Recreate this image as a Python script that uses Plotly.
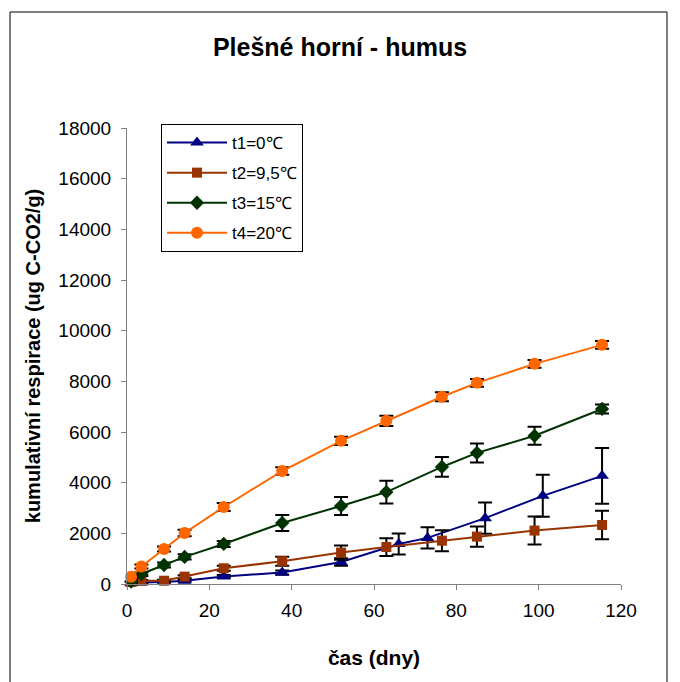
import plotly.graph_objects as go

# ---- data ----
days = [1, 3.5, 9, 14, 23.5, 37.7, 52, 63, 76.5, 85, 99, 115.4]
days_t1 = [1, 3.5, 9, 14, 23.5, 37.7, 52, 66, 73, 87, 101, 115.4]

t1 = [30, 60, 80, 130, 300, 450, 870, 1580, 1820, 2600, 3480, 4270]
t1_err = [20, 20, 30, 40, 60, 80, 150, 415, 420, 620, 830, 1100]

t2 = [80, 130, 130, 290, 620, 900, 1240, 1460, 1710, 1870, 2110, 2330]
t2_err = [30, 30, 40, 60, 100, 180, 280, 350, 415, 395, 550, 560]

t3 = [90, 395, 750, 1070, 1580, 2410, 3080, 3630, 4620, 5175, 5850, 6910]
t3_err = [40, 80, 100, 100, 120, 316, 355, 450, 390, 375, 355, 180]

t4 = [290, 690, 1380, 2015, 3040, 4460, 5650, 6440, 7390, 7940, 8690, 9440]
t4_err = [60, 80, 100, 130, 160, 150, 160, 200, 180, 150, 150, 150]

names = ["t1=0\u2103", "t2=9,5\u2103", "t3=15\u2103", "t4=20\u2103"]
colors = ["#000080", "#993300", "#003300", "#FF6600"]
symbols = ["triangle-up", "square", "diamond", "circle"]
sizes = [12, 10, 11, 12]

x_ticks = [0, 20, 40, 60, 80, 100, 120]
y_ticks = list(range(0, 18001, 2000))

xs = [days_t1, days, days, days]
ys = [t1, t2, t3, t4]
errs = [t1_err, t2_err, t3_err, t4_err]

FONT = "Liberation Sans, Arial, sans-serif"

fig = go.Figure()
for i in range(4):
    fig.add_trace(go.Scatter(
        x=xs[i], y=ys[i], name=names[i], mode="lines+markers",
        legendgroup="g%d" % i,
        line=dict(color=colors[i], width=2),
        marker=dict(symbol=symbols[i], size=sizes[i], color=colors[i],
                    line=dict(width=0)),
        error_y=dict(type="data", array=errs[i], visible=True,
                     color="black", thickness=2, width=7),
        cliponaxis=False,
    ))

fig.update_layout(
    width=680, height=682,
    margin=dict(l=127, r=59, t=128, b=98),
    paper_bgcolor="white", plot_bgcolor="white",
    font=dict(family=FONT, color="black"),
    title=dict(text="<b>Plešné horní - humus</b>", x=0.5, xref="container",
               xanchor="center",
               y=1 - 47 / 682, yref="container", yanchor="middle",
               font=dict(size=25, family=FONT)),
    showlegend=True,
    legend=dict(x=0.0688, y=1.0088, xanchor="left", yanchor="top",
                bordercolor="black", borderwidth=1, bgcolor="white",
                font=dict(size=17, family=FONT),
                tracegroupgap=5, traceorder="grouped", itemwidth=60),
    xaxis=dict(range=[0, 120], tickvals=x_ticks,
               ticktext=[str(v) for v in x_ticks],
               showgrid=False, zeroline=False, showline=True,
               linecolor="#808080", linewidth=1, ticks="outside",
               ticklen=5, tickcolor="#808080",
               tickfont=dict(size=19, family=FONT),
               ticklabelstandoff=4,
               title=dict(text="<b>čas (dny)</b>", font=dict(size=21, family=FONT),
                          standoff=30)),
    yaxis=dict(range=[0, 18000], tickvals=y_ticks,
               ticktext=[str(v) for v in y_ticks],
               showgrid=False, zeroline=False, showline=True,
               linecolor="#808080", linewidth=1, ticks="outside",
               ticklen=5, tickcolor="#808080",
               tickfont=dict(size=19, family=FONT),
               ticklabelstandoff=6,
               title=dict(text="<b>kumulativní respirace (ug C-CO2/g)</b>",
                          font=dict(size=20, family=FONT), standoff=12)),
)

# outer chart-area border
fig.add_shape(type="rect", xref="paper", yref="paper",
              x0=-0.2368, x1=1.0931, y0=-0.3, y1=1.2544,
              line=dict(color="black", width=1), fillcolor="rgba(0,0,0,0)",
              layer="below")

fig.write_html("out.html")
